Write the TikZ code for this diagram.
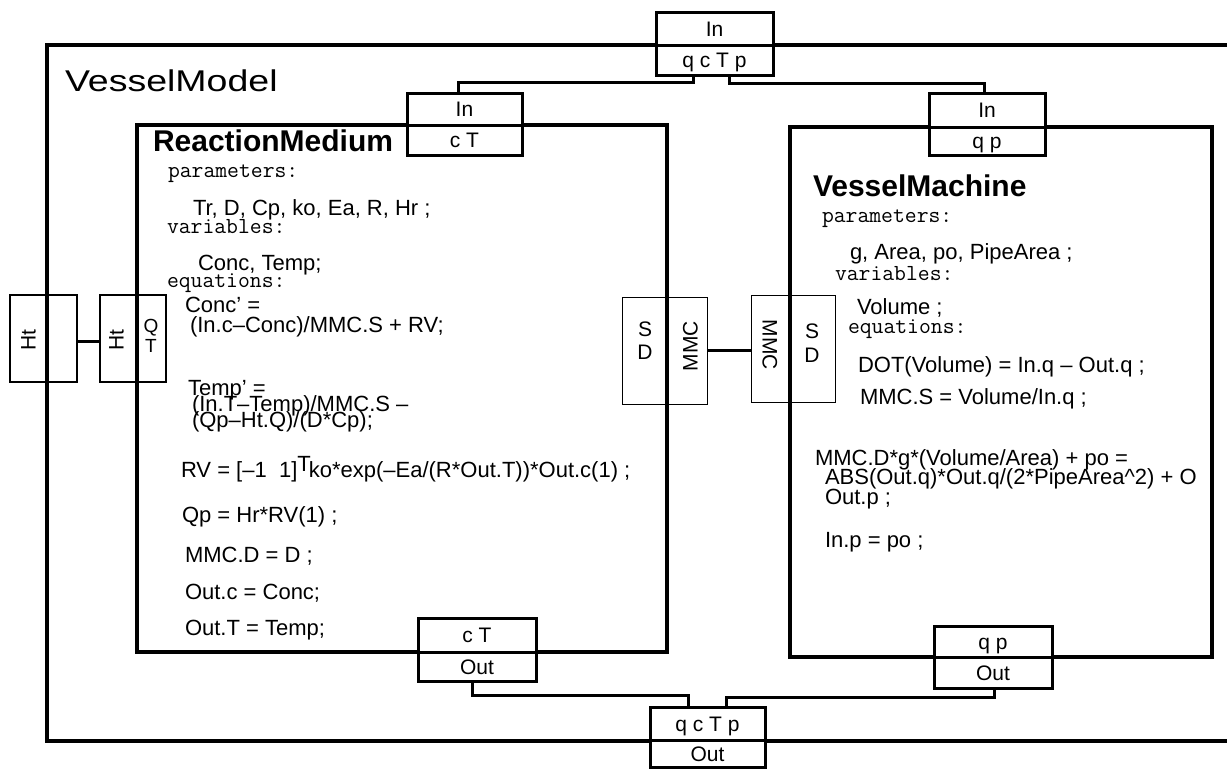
\documentclass[tikz,border=0pt]{standalone}
\usepackage{fontspec}
\setmainfont{Liberation Sans}
\begin{document}
\begin{tikzpicture}[x=1pt,y=-1pt,
  every node/.style={inner sep=0pt, outer sep=0pt},
  bigbox/.style={draw, line width=4pt},
  portcell/.style={draw, line width=3pt, fill=white, font=\fontsize{21}{21}\selectfont, text height=15pt, text depth=0pt},
  conn/.style={line width=3pt},
  thinbox/.style={draw, line width=1pt},
  htbox/.style={draw, line width=2pt},
  lab/.style={font=\fontsize{21}{21}\selectfont, text height=15pt, text depth=0pt},
  txt/.style={anchor=west, font=\fontsize{22}{22}\selectfont, text height=15pt, text depth=0pt},
  code/.style={anchor=west, font=\ttfamily\fontsize{23}{23}\selectfont, text height=10pt, text depth=0pt},
  titlefont/.style={anchor=west, font=\bfseries\fontsize{30}{30}\selectfont, text height=21.5pt, text depth=0pt}
]
\clip (0,0) rectangle (1227,769);
\fill[white] (0,0) rectangle (1227,769);

% main boxes
\node[bigbox, minimum width=1198, minimum height=696] (vmodel) at (646,393) {};
\node[bigbox, minimum width=530, minimum height=527] (rm) at (402,388.5) {};
\node[bigbox, minimum width=422, minimum height=530] (vm) at (1001,392) {};

% port cells
\node[portcell, minimum width=117, minimum height=33] (topIn) at (714.5,28.5) {In};
\node[portcell, minimum width=117, minimum height=30] (topQ) at (714.5,60) {q c T p};
\node[portcell, minimum width=115, minimum height=32] (rmIn) at (464.5,109) {In};
\node[portcell, minimum width=115, minimum height=30] (rmInV) at (464.5,140) {c T};
\node[portcell, minimum width=116, minimum height=34] (vmIn) at (987,110) {In};
\node[portcell, minimum width=116, minimum height=28] (vmInV) at (987,141) {q p};
\node[portcell, minimum width=118, minimum height=34] (rmOutV) at (477,635) {c T};
\node[portcell, minimum width=118, minimum height=29] (rmOut) at (477,666.5) {Out};
\node[portcell, minimum width=118, minimum height=31] (vmOutV) at (993,641.5) {q p};
\node[portcell, minimum width=118, minimum height=31] (vmOut) at (993,672.5) {Out};
\node[portcell, minimum width=115, minimum height=33] (botQ) at (707.5,723.5) {q c T p};
\node[portcell, minimum width=115, minimum height=27] (botOut) at (707.5,754) {Out};

% connectors
\draw[conn] ([xshift=-21.5pt]topQ.south) -- ++(0,7) -| ([xshift=-6.5pt]rmIn.north);
\draw[conn] ([xshift=14.5pt]topQ.south) -- ++(0,8) -| ([xshift=-3pt]vmIn.north);
\draw[conn] ([xshift=-5pt]rmOut.south) -- ++(0,14) -| ([xshift=-19.5pt]botQ.north);
\draw[conn] ([xshift=1pt]vmOut.south) -- ++(0,9) -| ([xshift=18.5pt]botQ.north);

% Ht ports
\node[htbox, minimum width=67, minimum height=87] (htO) at (43.5,338.5) {};
\node[htbox, minimum width=66, minimum height=87] (htI) at (133,338.5) {};
\draw[conn] (htO.east |- 0,341) -- (htI.west |- 0,341);
\node[lab, rotate=90] (htOt) at (28,340) {Ht};
\node[lab, rotate=90] (htIt) at (116,340) {Ht};
\node[font=\fontsize{19}{19}\selectfont, text height=13.5pt, text depth=0pt] (qQ) at (151,326) {Q};
\node[font=\fontsize{19}{19}\selectfont, text height=13.5pt, text depth=0pt] (qT) at (151,346) {T};

% MMC ports
\node[thinbox, minimum width=85, minimum height=107] (sdL) at (664.5,350.5) {};
\node[thinbox, minimum width=84, minimum height=107] (sdR) at (793,348.5) {};
\draw[conn] (sdL.east |- 0,350) -- (sdR.west |- 0,350);
\node[lab] (sL) at (645,329) {S};
\node[lab] (dL) at (645,352) {D};
\node[lab, rotate=90] (mmcL) at (690,346) {MMC};
\node[lab, rotate=-90] (mmcR) at (770,345) {MMC};
\node[lab] (sR) at (812,331) {S};
\node[lab] (dR) at (812,355) {D};

% titles
\node[anchor=west, font=\fontsize{30}{30}\selectfont, text height=21.5pt, text depth=0pt, xscale=1.25] (tVM) at (65,81) {VesselModel};
\node[titlefont] (tRM) at (153,141) {ReactionMedium};
\node[titlefont] (tVMa) at (813,186) {VesselMachine};

% ReactionMedium text
\node[code] (r1) at (168,172) {parameters:};
\node[txt] (r2) at (193,208) {Tr, D, Cp, ko, Ea, R, Hr ;};
\node[code] (r3) at (167,228) {variables:};
\node[txt] (r4) at (198,263) {Conc, Temp;};
\node[code] (r5) at (167,282) {equations:};
\node[txt] (r6) at (185,305) {Conc' =};
\node[txt] (r7) at (190,325) {(In.c–Conc)/MMC.S + RV;};
\node[txt] (r8) at (188,388) {Temp' =};
\node[txt] (r9) at (192,404) {(In.T–Temp)/MMC.S –};
\node[txt] (r10) at (192,420) {(Qp–Ht.Q)/(D*Cp);};
\node[txt] (r11) at (181,470) {RV = [–1~~1]\raisebox{6pt}{T}\hspace{-2pt}ko*exp(–Ea/(R*Out.T))*Out.c(1) ;};
\node[txt] (r12) at (182,515) {Qp = Hr*RV(1) ;};
\node[txt] (r13) at (185,555) {MMC.D = D ;};
\node[txt] (r14) at (185,592) {Out.c = Conc;};
\node[txt] (r15) at (185,628) {Out.T = Temp;};

% VesselMachine text
\node[code] (v1) at (822,217) {parameters:};
\node[txt] (v2) at (850,252) {g, Area, po, PipeArea ;};
\node[code] (v3) at (835,275) {variables:};
\node[txt] (v4) at (857,307) {Volume ;};
\node[code] (v5) at (848,328) {equations:};
\node[txt] (v6) at (858,365) {DOT(Volume) = In.q – Out.q ;};
\node[txt] (v7) at (860,397) {MMC.S = Volume/In.q ;};
\node[txt] (v8) at (815,458) {MMC.D*g*(Volume/Area) + po =};
\node[txt] (v9) at (825,477) {ABS(Out.q)*Out.q/(2*PipeArea\textasciicircum 2) + O};
\node[txt] (v10) at (825,497) {Out.p ;};
\node[txt] (v11) at (825,540) {In.p = po ;};
\end{tikzpicture}
\end{document}
